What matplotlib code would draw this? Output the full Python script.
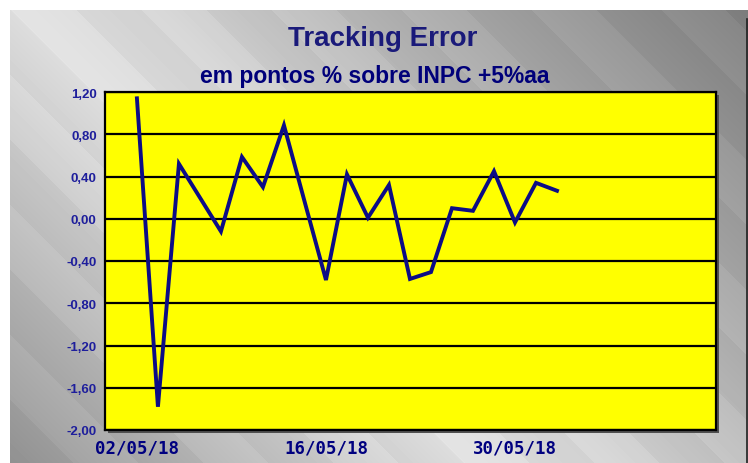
# Tracking Error chart - em pontos % sobre INPC +5%aa

import numpy as np
import matplotlib.pyplot as plt
from matplotlib.patches import Rectangle

# data (one point per business day)
tracking_error = [1.14, -1.78, 0.52, 0.20, -0.12, 0.585, 0.30, 0.885, 0.15, -0.58,
                  0.42, 0.01, 0.32, -0.57, -0.505, 0.10, 0.075, 0.45, -0.035, 0.34, 0.265]
tick_pos = [0, 9, 18]
tick_labels = ["02/05/18", "16/05/18", "30/05/18"]
y_ticks = [1.2, 0.8, 0.4, 0.0, -0.4, -0.8, -1.2, -1.6, -2.0]

W, H = 748, 464
navy = "#0c0c86"

fig = plt.figure(figsize=(W / 100, H / 100), dpi=100)

# grey metallic background with diagonal bands
bg = fig.add_axes([10 / W, 0, (W - 10) / W, (H - 11) / H])
xx, yy = np.meshgrid(np.arange(10, W), np.arange(11, H))
d = xx - yy
shade = np.interp(d, [-460, -200, 0, 150, 400, 740], [0.58, 0.75, 0.88, 0.83, 0.68, 0.50])
shade = shade + 0.015 * np.sign(np.sin(2 * np.pi * d / 130.0))
bg.imshow(np.clip(shade, 0, 1), cmap="gray", vmin=0, vmax=1, aspect="auto",
          interpolation="nearest")
bg.set_axis_off()
fig.add_artist(plt.Line2D([746.5 / W, 746.5 / W], [0, (H - 20) / H], color="#202020",
                          lw=1.2, transform=fig.transFigure))

# plot area
left, right, top, bottom = 105, 716, 93, 431
# shadow behind the plot frame
fig.add_artist(Rectangle(((left + 3) / W, (H - bottom - 3) / H), (right - left) / W,
                         (bottom - top) / H, transform=fig.transFigure,
                         facecolor="#505050", edgecolor="none", zorder=1))
ax = fig.add_axes([left / W, (H - bottom) / H, (right - left) / W, (bottom - top) / H])
ax.set_facecolor("#ffff00")
ax.set_zorder(2)

x = np.arange(len(tracking_error))
ax.plot(x, tracking_error, color=navy, lw=2.8, solid_joinstyle="miter", zorder=3)

ax.set_xlim(-1.52, 27.57)
ax.set_ylim(-2.0, 1.2)
ax.set_yticks(y_ticks)
ax.set_yticklabels([("%.2f" % v).replace(".", ",") for v in y_ticks],
                   fontfamily="Liberation Sans", fontweight="bold", fontsize=9.5,
                   color="#1e1e9c")
ax.set_xticks(tick_pos)
ax.set_xticklabels(tick_labels, fontfamily="DejaVu Sans Mono", fontweight="bold",
                   fontsize=12.5, color="#000080")
ax.tick_params(axis="both", length=0)
ax.tick_params(axis="y", pad=6)
ax.tick_params(axis="x", pad=6)
for lab in ax.get_xticklabels():
    lab.set_x(lab.get_position()[0] + 0.2)

ax.grid(axis="y", color="black", lw=1.6)
ax.set_axisbelow(True)
for s in ax.spines.values():
    s.set_color("black")
    s.set_linewidth(1.6)

fig.text(383 / W, 1 - 39 / H, "Tracking Error", ha="center", va="center",
         fontfamily="Liberation Sans", fontweight="bold", fontsize=20, color="#1a1a7a")
fig.text(375 / W, 1 - 77 / H, "em pontos % sobre INPC +5%aa", ha="center", va="center",
         fontfamily="Liberation Sans", fontweight="bold", fontsize=16.5, color="#00007a")

fig.savefig("out.png", dpi=100)
